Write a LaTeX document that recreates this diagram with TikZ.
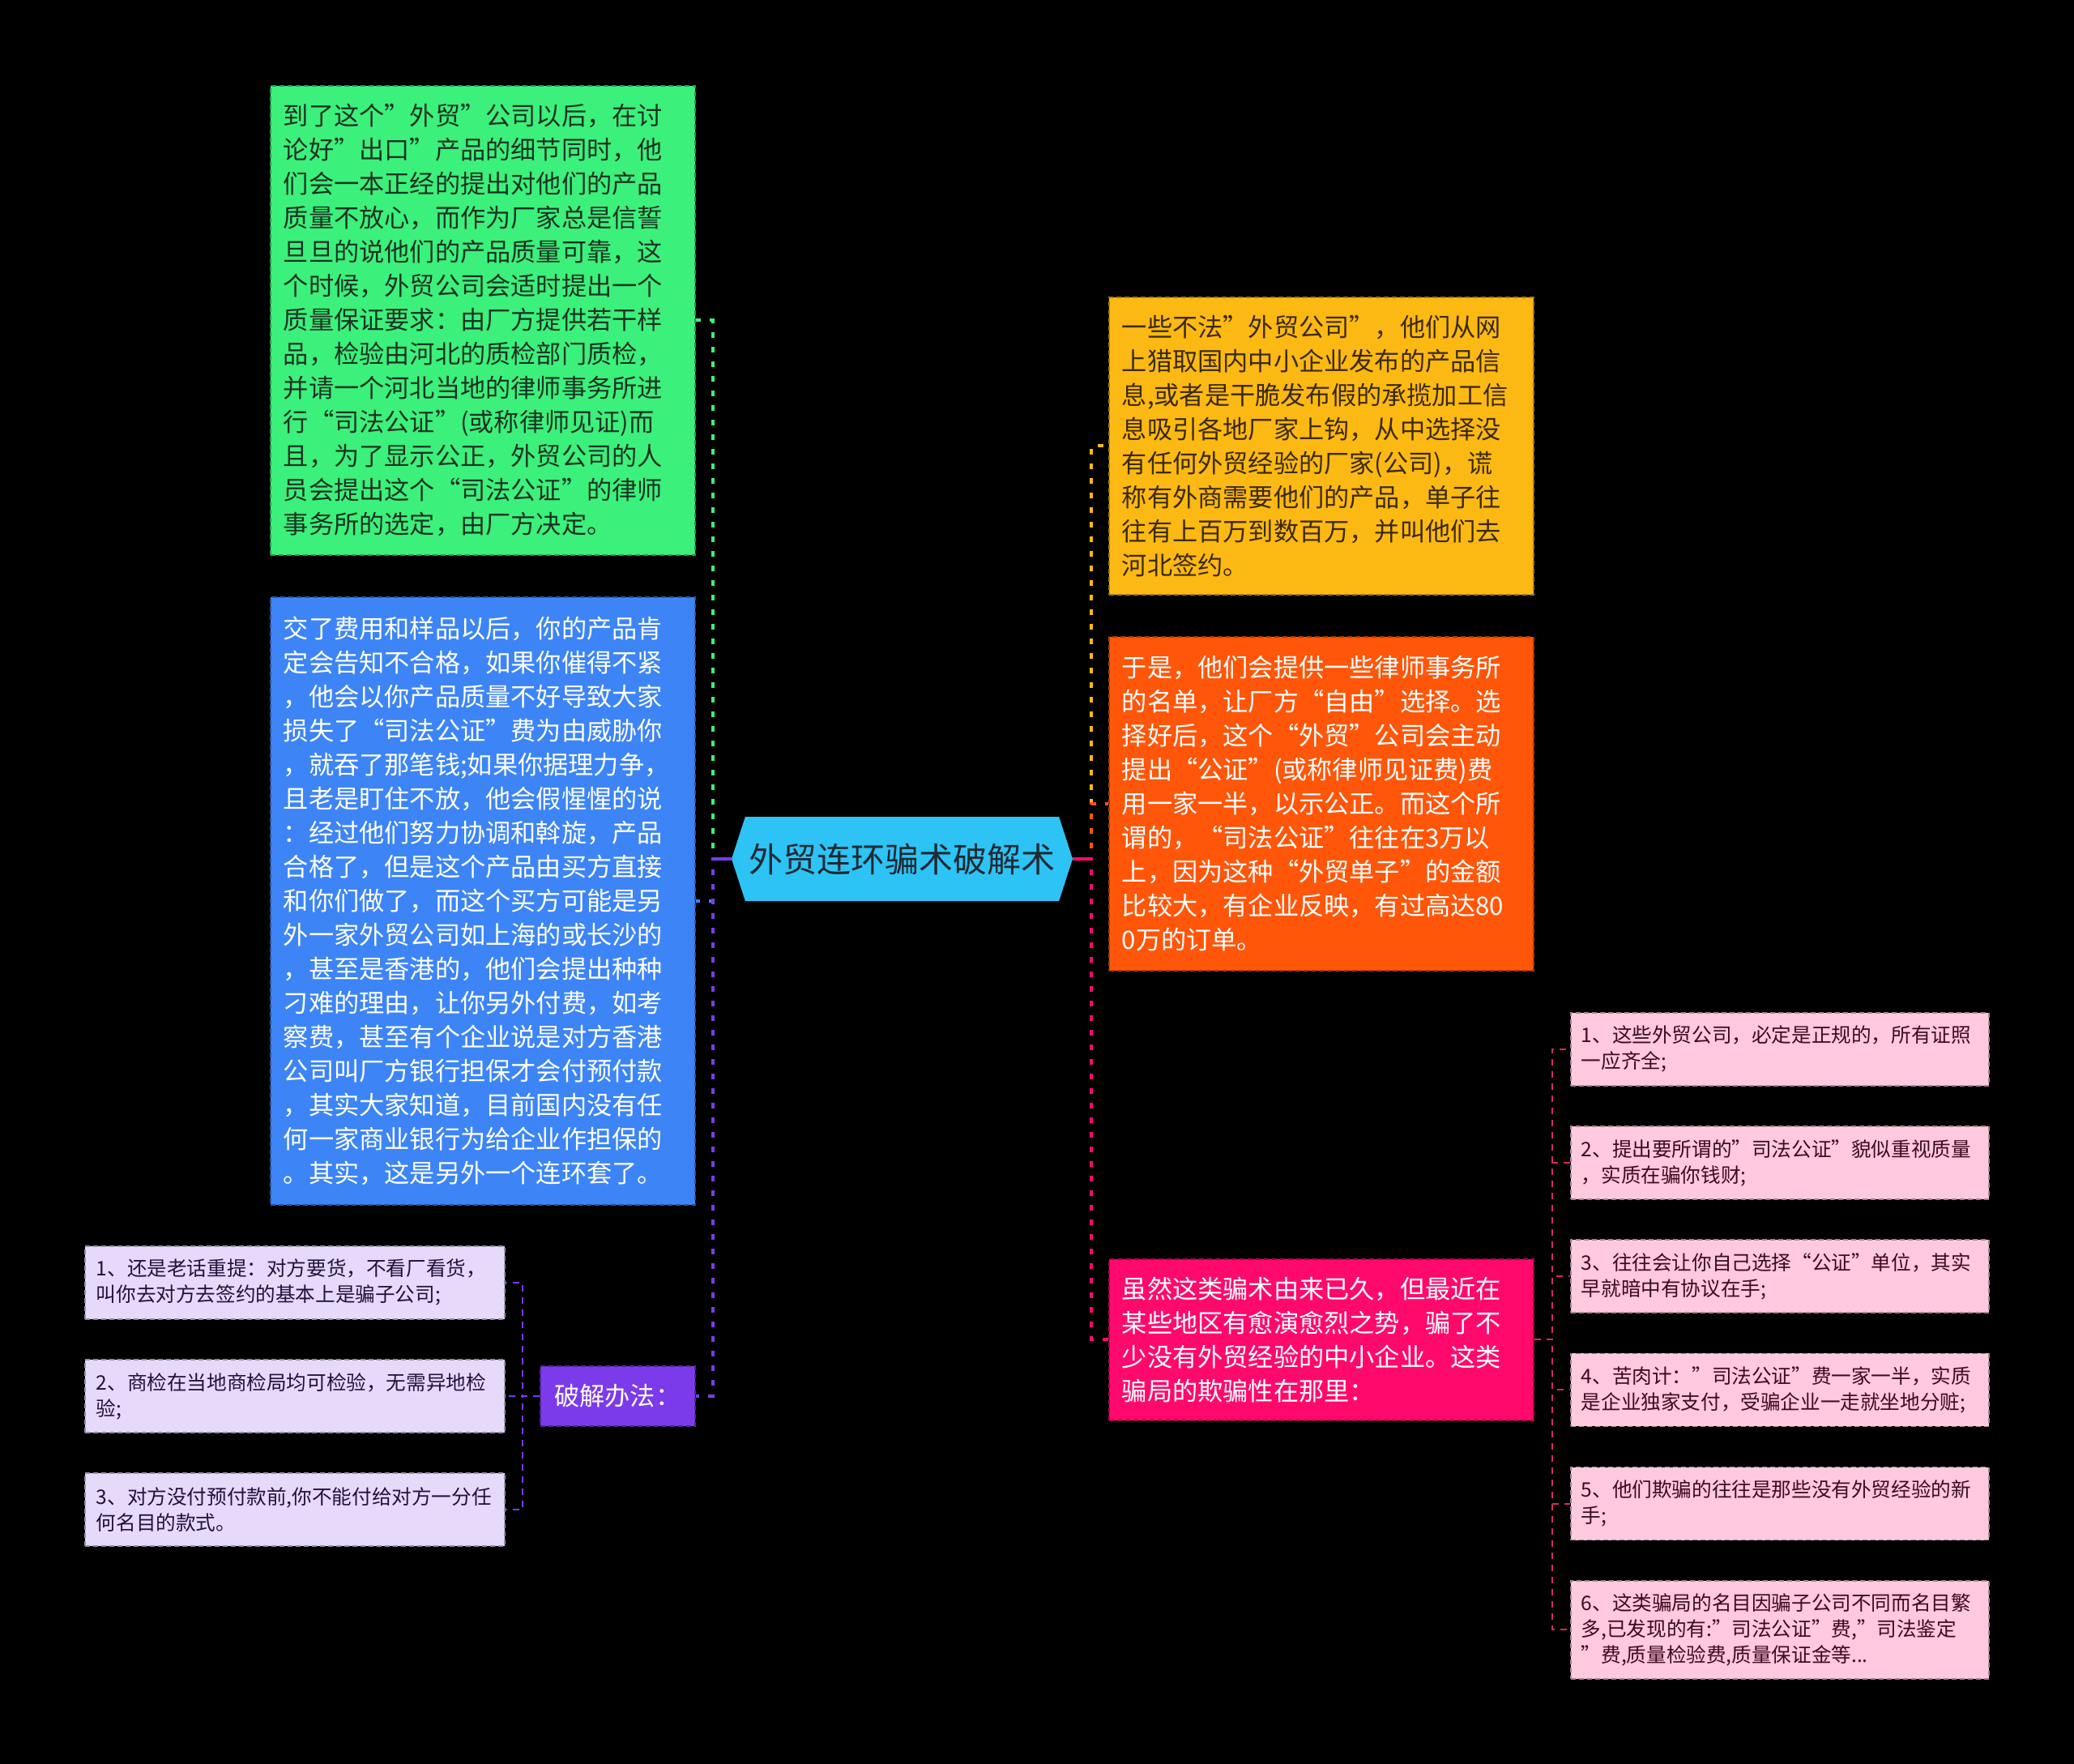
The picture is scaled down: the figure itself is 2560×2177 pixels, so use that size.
\documentclass[tikz,border=0pt]{standalone}
\usepackage{fontspec}
\setmainfont{Noto Sans CJK SC}
\usetikzlibrary{positioning,shapes.symbols}

\definecolor{hubblue}{HTML}{2EC3F5}
\definecolor{hubink}{HTML}{1E2A33}
\definecolor{leafgreen}{HTML}{3CF07C}
\definecolor{greenink}{HTML}{1A3322}
\definecolor{leafblue}{HTML}{3D85F6}
\definecolor{leafyellow}{HTML}{FDB913}
\definecolor{yellowink}{HTML}{3A2A05}
\definecolor{leaforange}{HTML}{FF560A}
\definecolor{leafred}{HTML}{FF0A6C}
\definecolor{leafpink}{HTML}{FFC9DF}
\definecolor{pinkink}{HTML}{3D0A1E}
\definecolor{linkpink}{HTML}{D4286A}
\definecolor{leafpurple}{HTML}{7B3BEA}
\definecolor{leaflilac}{HTML}{E6D9FA}
\definecolor{lilacink}{HTML}{20123C}

\begin{document}
\begin{tikzpicture}[x=0.5pt, y=-0.5pt, node distance=24.3pt,
    card/.style={fill=#1, draw=#1!65!black, line width=0.8pt, dash pattern=on 3pt off 2pt, align=left},
    bigcard/.style={card=#1, text width=246pt, inner xsep=8pt, font=\fontsize{15.6}{21}\selectfont},
    smallcard/.style={card=#1, text width=245pt, inner xsep=6.5pt, minimum height=45pt, font=\fontsize{12.3}{16}\selectfont},
    hub/.style={signal, signal to=west and east, signal pointer angle=144, fill=hubblue, text=hubink,
        minimum width=210.5pt, minimum height=52pt, inner sep=0pt, font=\fontsize{21}{25}\selectfont},
    link/.style={draw=#1, line width=2pt, dash pattern=on 3.5pt off 5.5pt},
    sublink/.style={draw=#1, line width=1pt, dash pattern=on 4pt off 3.5pt},
    stub/.style={draw=#1, line width=2pt}]

    \fill[black] (0,0) rectangle (2560,2177);

    % centre
    \node (hub) [hub] at (1113.5,1060) {外贸连环骗术破解术};

    % left side
    \node (green) [bigcard=leafgreen, text=greenink, minimum height=289.5pt, anchor=north west] at (333,105) {到了这个”外贸”公司以后，在讨\\论好”出口”产品的细节同时，他\\们会一本正经的提出对他们的产品\\质量不放心，而作为厂家总是信誓\\旦旦的说他们的产品质量可靠，这\\个时候，外贸公司会适时提出一个\\质量保证要求：由厂方提供若干样\\品，检验由河北的质检部门质检，\\并请一个河北当地的律师事务所进\\行“司法公证”(或称律师见证)而\\且，为了显示公正，外贸公司的人\\员会提出这个“司法公证”的律师\\事务所的选定，由厂方决定。};
    \node (blue) [bigcard=leafblue, text=white, minimum height=375pt, anchor=north west] at (333,736) {交了费用和样品以后，你的产品肯\\定会告知不合格，如果你催得不紧\\，他会以你产品质量不好导致大家\\损失了“司法公证”费为由威胁你\\，就吞了那笔钱;如果你据理力争，\\且老是盯住不放，他会假惺惺的说\\：经过他们努力协调和斡旋，产品\\合格了，但是这个产品由买方直接\\和你们做了，而这个买方可能是另\\外一家外贸公司如上海的或长沙的\\，甚至是香港的，他们会提出种种\\刁难的理由，让你另外付费，如考\\察费，甚至有个企业说是对方香港\\公司叫厂方银行担保才会付预付款\\，其实大家知道，目前国内没有任\\何一家商业银行为给企业作担保的\\。其实，这是另外一个连环套了。};
    \node (fix) [card=leafpurple, text=white, align=center, minimum width=95.5pt, minimum height=37pt, inner sep=0pt, font=\fontsize{15.6}{19}\selectfont, anchor=north west] at (666,1685) {破解办法：};
    \node (l1) [smallcard=leaflilac, text=lilacink, inner xsep=7pt, anchor=north west] at (104,1537) {1、还是老话重提：对方要货，不看厂看货，\\叫你去对方去签约的基本上是骗子公司;};
    \node (l2) [smallcard=leaflilac, text=lilacink, inner xsep=7pt, below=of l1] {2、商检在当地商检局均可检验，无需异地检\\验;};
    \node (l3) [smallcard=leaflilac, text=lilacink, inner xsep=7pt, below=of l2] {3、对方没付预付款前,你不能付给对方一分任\\何名目的款式。};

    % right side
    \node (yellow) [bigcard=leafyellow, text=yellowink, minimum height=183.5pt, anchor=north west] at (1368,366) {一些不法”外贸公司”，他们从网\\上猎取国内中小企业发布的产品信\\息,或者是干脆发布假的承揽加工信\\息吸引各地厂家上钩，从中选择没\\有任何外贸经验的厂家(公司)，谎\\称有外商需要他们的产品，单子往\\往有上百万到数百万，并叫他们去\\河北签约。};
    \node (orange) [bigcard=leaforange, text=white, minimum height=206pt, anchor=north west] at (1368,785) {于是，他们会提供一些律师事务所\\的名单，让厂方“自由”选择。选\\择好后，这个“外贸”公司会主动\\提出“公证”(或称律师见证费)费\\用一家一半，以示公正。而这个所\\谓的，“司法公证”往往在3万以\\上，因为这种“外贸单子”的金额\\比较大，有企业反映，有过高达80\\0万的订单。};
    \node (scam) [bigcard=leafred, text=white, minimum height=99.5pt, anchor=north west] at (1368,1553) {虽然这类骗术由来已久，但最近在\\某些地区有愈演愈烈之势，骗了不\\少没有外贸经验的中小企业。这类\\骗局的欺骗性在那里：};
    \node (r1) [smallcard=leafpink, text=pinkink, anchor=north west] at (1938,1249) {1、这些外贸公司，必定是正规的，所有证照\\一应齐全;};
    \node (r2) [smallcard=leafpink, text=pinkink, below=of r1] {2、提出要所谓的”司法公证”貌似重视质量\\，实质在骗你钱财;};
    \node (r3) [smallcard=leafpink, text=pinkink, below=of r2] {3、往往会让你自己选择“公证”单位，其实\\早就暗中有协议在手;};
    \node (r4) [smallcard=leafpink, text=pinkink, below=of r3] {4、苦肉计：”司法公证”费一家一半，实质\\是企业独家支付，受骗企业一走就坐地分赃;};
    \node (r5) [smallcard=leafpink, text=pinkink, below=of r4] {5、他们欺骗的往往是那些没有外贸经验的新\\手;};
    \node (r6) [smallcard=leafpink, text=pinkink, minimum height=60.5pt, below=of r5] {6、这类骗局的名目因骗子公司不同而名目繁\\多,已发现的有:”司法公证”费,”司法鉴定\\”费,质量检验费,质量保证金等...};

    % connectors
    \coordinate (ltrunk) at ([xshift=-11.5pt]hub.west);
    \coordinate (rtrunk) at ([xshift=11.5pt]hub.east);
    \coordinate (fixtrunk) at ([xshift=-10.5pt]fix.west);
    \coordinate (scamtrunk) at ([xshift=11pt]scam.east);

    \draw[link=leafgreen] (hub.west) -- (ltrunk) |- (green.east);
    \draw[link=leafblue] (hub.west) -- (ltrunk) |- (blue.east);
    \draw[link=leafpurple] (hub.west) -- (ltrunk) |- (fix.east);
    \draw[stub=leafpurple] (hub.west) -- (ltrunk);

    \draw[link=leafyellow] (hub.east) -- (rtrunk) |- (yellow.west);
    \draw[link=leaforange] (hub.east) -- (rtrunk) |- (orange.west);
    \draw[link=leafred] (hub.east) -- (rtrunk) |- (scam.west);
    \draw[stub=leafred] (hub.east) -- (rtrunk);

    \foreach \leaf in {l1,l2,l3}
        \draw[sublink=leafpurple] (fix.west) -- (fixtrunk) |- (\leaf.east);
    \foreach \leaf in {r1,r2,r3,r4,r5,r6}
        \draw[sublink=linkpink] (scam.east) -- (scamtrunk) |- (\leaf.west);
\end{tikzpicture}
\end{document}
